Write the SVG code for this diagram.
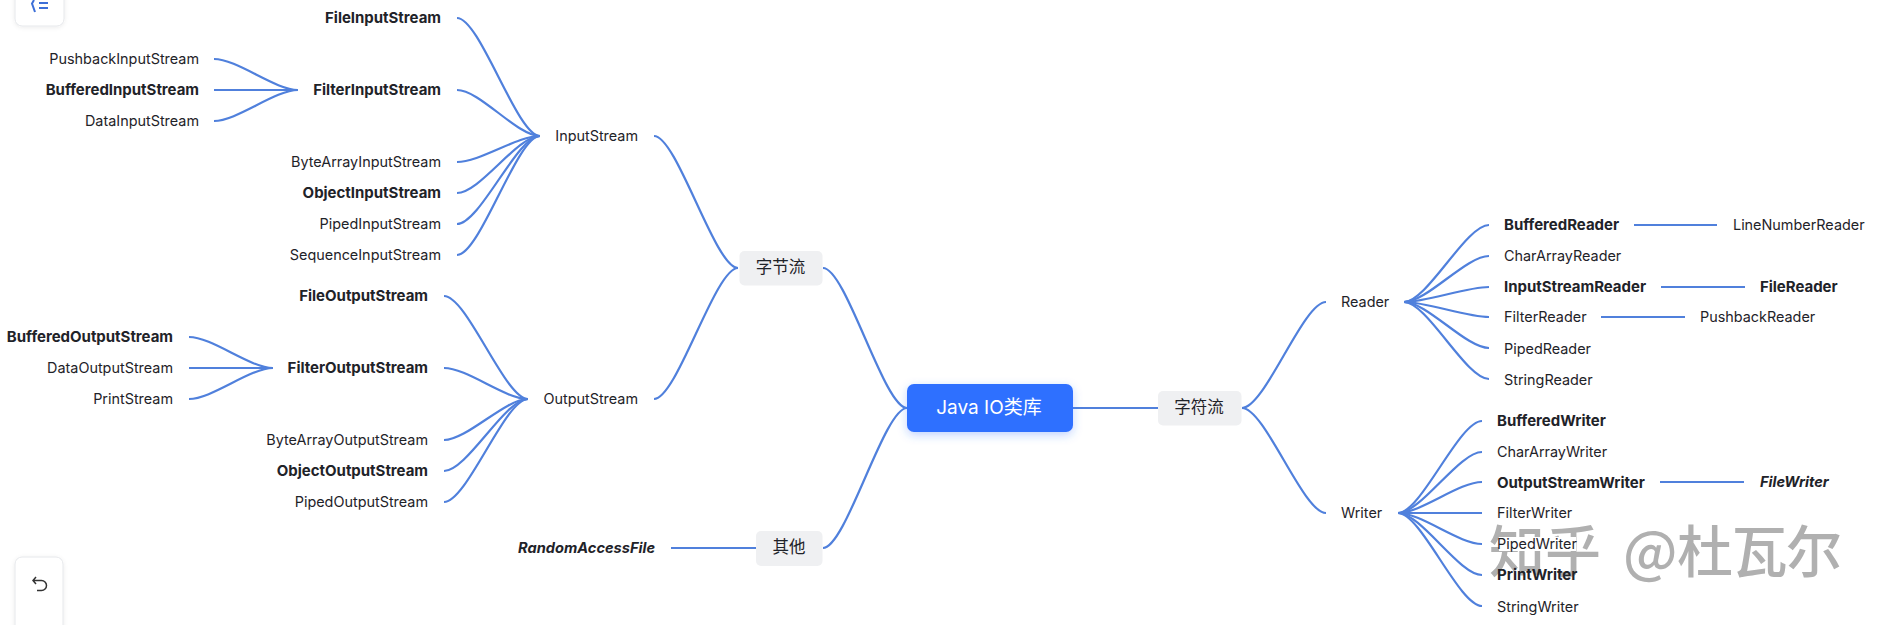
<svg xmlns="http://www.w3.org/2000/svg" width="1888" height="625" viewBox="0 0 1888 625">
<style>
text{font-family:Inter,"Noto Sans CJK SC",sans-serif;font-size:14.4px;fill:#1f2329;dominant-baseline:central}
.r{text-anchor:end}
.b{font-weight:700;font-size:15px;letter-spacing:-.02px}
.i{font-style:italic;font-weight:700;font-size:14.6px}
.c{text-anchor:middle;font-size:16.500px}
.tag{fill:#eff0f2}
#connectors path{fill:none;stroke:#5080dc;stroke-width:2.200}
.btn{fill:#fff;stroke:#e6e8eb;stroke-width:1;filter:url(#s1)}
#watermark text{font-size:56px;font-weight:500;fill:#b0b0b0;stroke:#fff;stroke-width:2px;paint-order:stroke;font-family:"Noto Sans CJK SC",sans-serif}
</style>
<defs>
<filter id="s1" x="-30%" y="-30%" width="160%" height="160%"><feDropShadow dx="0" dy="1" stdDeviation="2" flood-color="#000" flood-opacity=".08"/></filter>
<filter id="s2" x="-20%" y="-40%" width="140%" height="190%"><feDropShadow dx="0" dy="3" stdDeviation="5" flood-color="#2f6fff" flood-opacity=".3"/></filter>
</defs>
<rect width="1888" height="625" fill="#fff"/>
<g id="connectors">
<path d="M457 18C480 18 517 136 540 136"/>
<path d="M457 90C480 90 517 136 540 136"/>
<path d="M457 162C480 162 517 136 540 136"/>
<path d="M457 193C480 193 517 136 540 136"/>
<path d="M457 224C480 224 517 136 540 136"/>
<path d="M457 255C480 255 517 136 540 136"/>
<path d="M214 59C237 59 275 90 298 90"/>
<path d="M214 90H298"/>
<path d="M214 121C237 121 275 90 298 90"/>
<path d="M444 296C467 296 505 399 528 399"/>
<path d="M444 368C467 368 505 399 528 399"/>
<path d="M444 440C467 440 505 399 528 399"/>
<path d="M444 471C467 471 505 399 528 399"/>
<path d="M444 502C467 502 505 399 528 399"/>
<path d="M189 337C212 337 250 368 273 368"/>
<path d="M189 368H273"/>
<path d="M189 399C212 399 250 368 273 368"/>
<path d="M654 136C677 136 715 268 738 268"/>
<path d="M654 399C677 399 715 268 738 268"/>
<path d="M671 548H756"/>
<path d="M823 268C846 268 884 408 907 408"/>
<path d="M823 548C846 548 884 408 907 408"/>
<path d="M1073 408H1158"/>
<path d="M1242 408C1265 408 1303 302 1326 302"/>
<path d="M1242 408C1265 408 1303 513 1326 513"/>
<path d="M1404 302C1427 302 1466 225 1489 225"/>
<path d="M1404 302C1427 302 1466 256 1489 256"/>
<path d="M1404 302C1427 302 1466 287 1489 287"/>
<path d="M1404 302C1427 302 1466 317 1489 317"/>
<path d="M1404 302C1427 302 1466 348 1489 348"/>
<path d="M1404 302C1427 302 1466 379 1489 379"/>
<path d="M1634 225H1717"/>
<path d="M1661 287H1745"/>
<path d="M1601 317H1685"/>
<path d="M1398 513C1421 513 1459 421 1482 421"/>
<path d="M1398 513C1421 513 1459 452 1482 452"/>
<path d="M1398 513C1421 513 1459 482 1482 482"/>
<path d="M1398 513H1482"/>
<path d="M1398 513C1421 513 1459 544 1482 544"/>
<path d="M1398 513C1421 513 1459 575 1482 575"/>
<path d="M1398 513C1421 513 1459 606 1482 606"/>
<path d="M1660 482H1744"/>
</g>
<g id="root"><rect x="907" y="384" width="166" height="48" rx="7" fill="#2f6fff" filter="url(#s2)"/><text x="989" y="407" class="c" style="fill:#fff;font-size:19px">Java IO类库</text></g>
<g id="n-byte"><rect class="tag" x="739.500" y="251" width="83" height="34.500" rx="5"/><text x="780.500" y="267" class="c">字节流</text></g>
<g id="n-other"><rect class="tag" x="756" y="531" width="66.500" height="35" rx="5"/><text x="789" y="547" class="c">其他</text></g>
<g id="n-char"><rect class="tag" x="1158" y="391" width="83.500" height="34.500" rx="5"/><text x="1199" y="407" class="c">字符流</text></g>
<g id="n-input"><text x="638" y="135" class="r">InputStream</text></g>
<g id="n-output"><text x="638" y="398" class="r">OutputStream</text></g>
<g id="n-fis"><text x="441" y="17" class="r b">FileInputStream</text></g>
<g id="n-filteris"><text x="441" y="89" class="r b">FilterInputStream</text></g>
<g id="n-bais"><text x="441" y="161" class="r">ByteArrayInputStream</text></g>
<g id="n-ois"><text x="441" y="192" class="r b">ObjectInputStream</text></g>
<g id="n-pis"><text x="441" y="223" class="r">PipedInputStream</text></g>
<g id="n-sis"><text x="441" y="254" class="r">SequenceInputStream</text></g>
<g id="n-pbis"><text x="199" y="58" class="r">PushbackInputStream</text></g>
<g id="n-bis"><text x="199" y="89" class="r b">BufferedInputStream</text></g>
<g id="n-dis"><text x="199" y="120" class="r">DataInputStream</text></g>
<g id="n-fos"><text x="428" y="295" class="r b">FileOutputStream</text></g>
<g id="n-filteros"><text x="428" y="367" class="r b">FilterOutputStream</text></g>
<g id="n-baos"><text x="428" y="439" class="r">ByteArrayOutputStream</text></g>
<g id="n-oos"><text x="428" y="470" class="r b">ObjectOutputStream</text></g>
<g id="n-pos"><text x="428" y="501" class="r">PipedOutputStream</text></g>
<g id="n-bos"><text x="173" y="336" class="r b">BufferedOutputStream</text></g>
<g id="n-dos"><text x="173" y="367" class="r">DataOutputStream</text></g>
<g id="n-ps"><text x="173" y="398" class="r">PrintStream</text></g>
<g id="n-raf"><text x="655" y="548" class="r i">RandomAccessFile</text></g>
<g id="n-reader"><text x="1341" y="301">Reader</text></g>
<g id="n-writer"><text x="1341" y="512">Writer</text></g>
<g id="n-br"><text x="1504" y="224" class="b">BufferedReader</text></g>
<g id="n-car"><text x="1504" y="255">CharArrayReader</text></g>
<g id="n-isr"><text x="1504" y="286" class="b">InputStreamReader</text></g>
<g id="n-fr"><text x="1504" y="316">FilterReader</text></g>
<g id="n-pr"><text x="1504" y="348">PipedReader</text></g>
<g id="n-sr"><text x="1504" y="379">StringReader</text></g>
<g id="n-lnr"><text x="1733" y="224">LineNumberReader</text></g>
<g id="n-filer"><text x="1760" y="286" class="b">FileReader</text></g>
<g id="n-pbr"><text x="1700" y="316">PushbackReader</text></g>
<g id="n-bw"><text x="1497" y="420" class="b">BufferedWriter</text></g>
<g id="n-caw"><text x="1497" y="451">CharArrayWriter</text></g>
<g id="n-osw"><text x="1497" y="482" class="b">OutputStreamWriter</text></g>
<g id="n-fw"><text x="1497" y="512">FilterWriter</text></g>
<g id="n-sw"><text x="1497" y="606">StringWriter</text></g>
<g id="n-filew"><text x="1760" y="482" class="i">FileWriter</text></g>
<g id="watermark"><text y="547"><tspan x="1489">知乎</tspan><tspan x="1623">@</tspan><tspan x="1677" letter-spacing="-1.500">杜瓦尔</tspan></text></g>
<g id="n-pw"><rect x="1499" y="537" width="77" height="14" fill="#fff"/><text x="1497" y="543">PipedWriter</text></g>
<g id="n-printw"><text x="1497" y="574" class="b">PrintWriter</text></g>
<g id="btn-top"><rect class="btn" x="15" y="-20" width="49" height="46" rx="7"/><path d="M34 0L32 3.500L35 12M39 3H48M39 8H48" fill="none" stroke="#3d6fd8" stroke-width="2"/></g>
<g id="btn-bottom"><rect class="btn" x="15" y="557" width="48" height="80" rx="7"/><path d="M36 577L33 580.500L36 584M33 580.500H41.500A5 5 0 0 1 41.500 590.500H37" fill="none" stroke="#333" stroke-width="1.500"/></g>
</svg>
